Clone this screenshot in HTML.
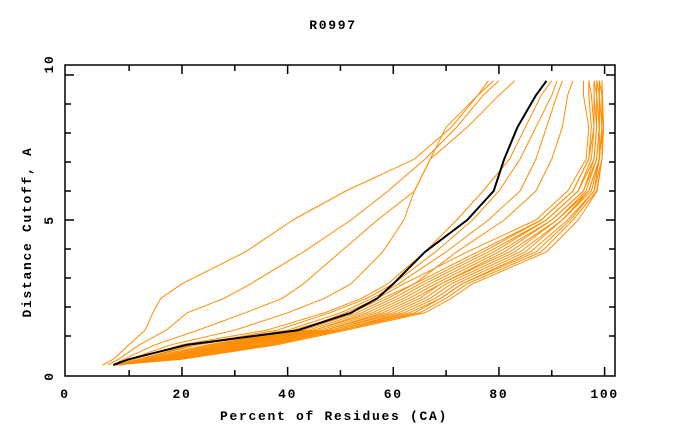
<!DOCTYPE html>
<html><head><meta charset="utf-8"><style>
body{margin:0;background:#fff;}
svg text{font-family:"Liberation Mono",monospace;font-weight:bold;font-size:13px;fill:#000;letter-spacing:1.7px;}
</style></head><body>
<svg id="chart" width="680" height="440" xmlns="http://www.w3.org/2000/svg">
<text x="333" y="29" text-anchor="middle">R0997</text>
<text x="334" y="420" text-anchor="middle">Percent of Residues (CA)</text>
<text transform="translate(31,232) rotate(-90)" text-anchor="middle">Distance Cutoff, A</text>
<g id="series"></g>
<g id="axes"></g>
</svg>
<script>
const yLevels = [0,0.2,0.7,1.2,1.8,2.3,2.8,3.9,5,6,7.1,8.2,9.3,9.8];
const xTicks = [0,20,40,60,80,100];
const yTicks = [0,5,10];
const refSeries = [7,10,21,42,52,57,60,66,74,79,81,83.5,87,89];
const orangeSeries = [
 [5,7,10,13,14.5,16,20,32,41,51,64,71,76,78],
 [6,8,12,17,21,28,33,43,52,59,66,72,77,80],
 [7,9,15,23,32,39,43,50,57,64,67,70,76,79],
 [7,10,18,30,40,47,52,58,62,64,67,74,80,83],
 [8,11,20,36,47,54,59,66,72,77,82,85,88,90],
 [8,12,22,38,48,55,60,68,75,80,84,87,90,91],
 [8,12,22,40,50,56,61,70,78,84,87,89,91,92],
 [8,12,23,41,52,58,64,72,81,87,90,92,93,94],
 [8,12,25,42,51,57,62,74,87,93,96.5,97,96,96],
 [8,13,26,43,53,59,64,76,88,94,97,97.5,97,97],
 [8,13,27,44,54,60,65,77,88,94,97,98,97.5,97],
 [8,14,28,45,55,61,66,78,89,95,97.5,98,98,98],
 [8,14,29,45,56,62,67,79,89,95,98,98.5,98,98],
 [8,15,30,46,57,63,68,80,90,96,98,98.5,98.5,98],
 [8,15,30,47,58,64,69,81,90,96,98.5,99,98.5,98.5],
 [8,16,31,47,59,65,69,82,91,96.5,98.5,99,99,98.5],
 [8,16,32,48,60,66,70,83,91,97,99,99,99,99],
 [8,17,33,48,61,67,71,84,92,97,99,99.5,99,99],
 [7,17,34,49,62,68,72,85,92,97.5,99,99.5,99.5,99],
 [7,18,35,49,63,69,73,86,93,98,99,99.5,99.5,99.5],
 [7,18,36,50,64,69,73,87,93.5,98,99.5,99.5,99.5,99.5],
 [7,19,37,50,65,70,74,88,94,98.5,99.5,99.8,99.5,99.5],
 [7,20,38,51,66,71,75,89,95,98.6,99.5,99.8,99.6,99.5]
];
const X = v => 76.3 + 5.283 * v;
const Y = v => 365 - 29 * v;
const NS = "http://www.w3.org/2000/svg";
const sg = document.getElementById('series');
function addLine(arr, color, w, idx){
  const p = document.createElementNS(NS,'polyline');
  p.setAttribute('points', arr.map((x,i)=>X(x)+','+Y(yLevels[i])).join(' '));
  p.setAttribute('fill','none');
  p.setAttribute('stroke',color);
  p.setAttribute('stroke-width',w);
  p.setAttribute('stroke-linejoin','round');
  
  
  sg.appendChild(p);
}
orangeSeries.forEach((s,i)=>addLine(s,'#ff8c00',1,i));
addLine(refSeries,'#000',2,-1);
const ag = document.getElementById('axes');
function el(tag, attrs){const e=document.createElementNS(NS,tag);for(const k in attrs)e.setAttribute(k,attrs[k]);ag.appendChild(e);return e;}
const frame = el('rect',{x:65,y:65,width:550,height:311,fill:'none',stroke:'#000','stroke-width':1.5});


for(let v=10; v<=100; v+=10){
  const len = v%20===0?9:6;
  el('line',{x1:X(v),x2:X(v),y1:376,y2:376-len,stroke:'#000','stroke-width':1.5});
  el('line',{x1:X(v),x2:X(v),y1:65,y2:65+len,stroke:'#000','stroke-width':1.5});
}
xTicks.forEach(v=>{
  const t = el('text',{x:v===0?65:X(v),y:398,'text-anchor':'middle'});
  t.textContent = v;
  
  
});
for(let v=1; v<=10; v++){
  const len = v%5===0?9:6;
  el('line',{x1:65,x2:65+len,y1:Y(v),y2:Y(v),stroke:'#000','stroke-width':1.5});
  el('line',{x1:615,x2:615-len,y1:Y(v),y2:Y(v),stroke:'#000','stroke-width':1.5});
}
yTicks.forEach(v=>{
  const yy = v===0?376:(v===10?64:Y(v));
  const t = el('text',{transform:`translate(53,${yy}) rotate(-90)`,'text-anchor':'middle'});
  t.textContent = v;
  
  
});
</script>
</body></html>
